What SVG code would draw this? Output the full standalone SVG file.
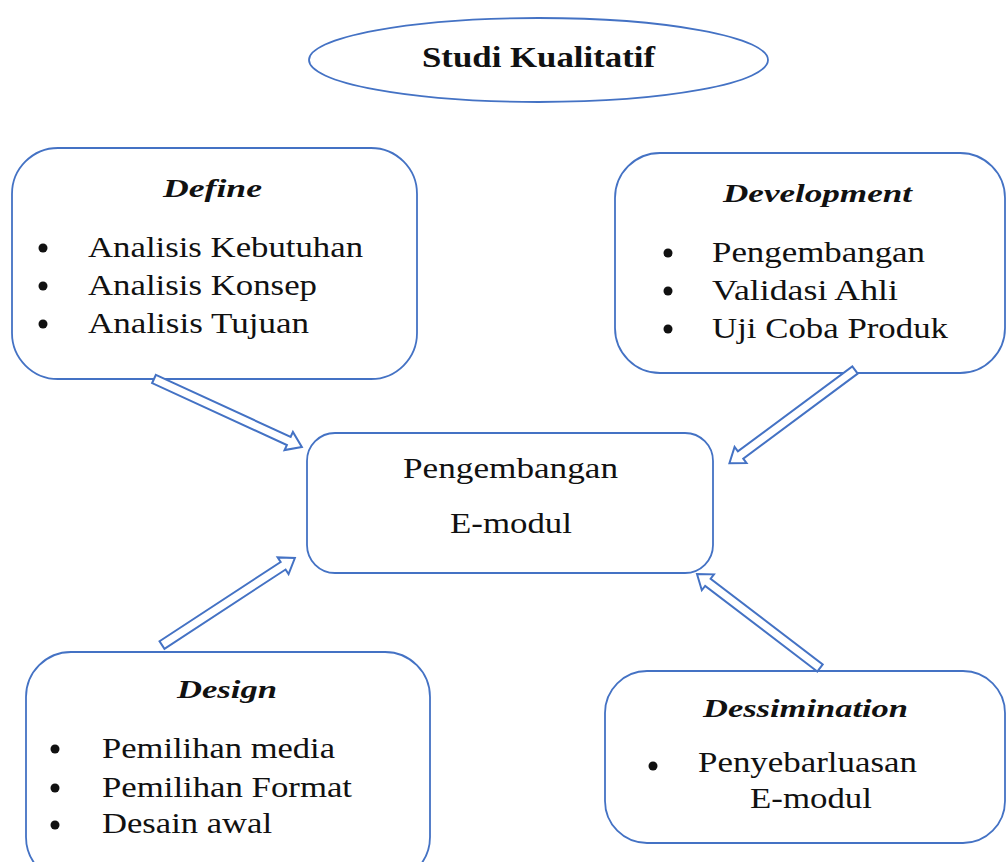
<svg xmlns="http://www.w3.org/2000/svg" width="1006" height="862" viewBox="0 0 1006 862">
<style>
.box{fill:#fff;stroke:#4472C4;stroke-width:1.8}
.arr{fill:#fff;stroke:#4472C4;stroke-width:2;stroke-linejoin:miter}
.t{font-family:"Liberation Serif","Times New Roman",serif;fill:#111}
.title{font-size:29px;font-weight:bold}
.hd{font-size:26px;font-weight:bold;font-style:italic}
.li{font-size:30px}
.ct{font-size:29px}
.dot{fill:#111}
</style>
<defs>
<path id="blk" d="M0,-4.5 L144,-4.5 L144,-10 L158,0 L144,10 L144,4.5 L0,4.5 Z"/>
</defs>
<rect width="1006" height="862" fill="#fff"/>

<g id="node-studi">
<ellipse class="box" cx="538.5" cy="60" rx="229.5" ry="42"/>
<text class="t title" x="422" y="67" textLength="233" lengthAdjust="spacingAndGlyphs">Studi Kualitatif</text>
</g>

<g id="node-define">
<rect class="box" x="12" y="148" width="405" height="231" rx="46"/>
<text class="t hd" x="163" y="197" textLength="99" lengthAdjust="spacingAndGlyphs">Define</text>
<circle class="dot" cx="43" cy="248" r="4.5"/>
<circle class="dot" cx="43" cy="286" r="4.5"/>
<circle class="dot" cx="43" cy="324" r="4.5"/>
<text class="t li" x="88" y="257" textLength="275" lengthAdjust="spacingAndGlyphs">Analisis Kebutuhan</text>
<text class="t li" x="88" y="295" textLength="229" lengthAdjust="spacingAndGlyphs">Analisis Konsep</text>
<text class="t li" x="88" y="333" textLength="221" lengthAdjust="spacingAndGlyphs">Analisis Tujuan</text>
</g>

<g id="node-development">
<rect class="box" x="615" y="153" width="390" height="220" rx="45"/>
<text class="t hd" x="723" y="202" textLength="189" lengthAdjust="spacingAndGlyphs">Development</text>
<circle class="dot" cx="668" cy="253" r="4.5"/>
<circle class="dot" cx="668" cy="291" r="4.5"/>
<circle class="dot" cx="668" cy="329" r="4.5"/>
<text class="t li" x="712" y="262" textLength="213" lengthAdjust="spacingAndGlyphs">Pengembangan</text>
<text class="t li" x="712" y="300" textLength="186" lengthAdjust="spacingAndGlyphs">Validasi Ahli</text>
<text class="t li" x="712" y="338" textLength="236" lengthAdjust="spacingAndGlyphs">Uji Coba Produk</text>
</g>

<g id="node-center">
<rect class="box" x="307" y="433" width="406" height="140" rx="28"/>
<text class="t ct" x="403" y="478" textLength="215" lengthAdjust="spacingAndGlyphs">Pengembangan</text>
<text class="t ct" x="450" y="533" textLength="122" lengthAdjust="spacingAndGlyphs">E-modul</text>
</g>

<g id="node-design">
<rect class="box" x="26" y="652" width="404" height="230" rx="45"/>
<text class="t hd" x="177" y="698" textLength="100" lengthAdjust="spacingAndGlyphs">Design</text>
<circle class="dot" cx="55" cy="749" r="4.5"/>
<circle class="dot" cx="55" cy="788" r="4.5"/>
<circle class="dot" cx="55" cy="825" r="4.5"/>
<text class="t li" x="102" y="758" textLength="233" lengthAdjust="spacingAndGlyphs">Pemilihan media</text>
<text class="t li" x="102" y="797" textLength="250" lengthAdjust="spacingAndGlyphs">Pemilihan Format</text>
<text class="t li" x="102" y="833" textLength="170" lengthAdjust="spacingAndGlyphs">Desain awal</text>
</g>

<g id="node-dessimination">
<rect class="box" x="605" y="671" width="400" height="172" rx="42"/>
<text class="t hd" x="703" y="717" textLength="205" lengthAdjust="spacingAndGlyphs">Dessimination</text>
<circle class="dot" cx="653" cy="766" r="4.5"/>
<text class="t li" x="698" y="772" textLength="219" lengthAdjust="spacingAndGlyphs">Penyebarluasan</text>
<text class="t li" x="750" y="808" textLength="122" lengthAdjust="spacingAndGlyphs">E-modul</text>
</g>

<g id="connectors">
<use href="#blk" class="arr" transform="translate(154,379) rotate(24.7) scale(1.03,1)"/>
<use href="#blk" class="arr" transform="translate(855,370) rotate(143.4) scale(0.99,1)"/>
<use href="#blk" class="arr" transform="translate(162,645) rotate(-33.2) scale(1.005,1)"/>
<use href="#blk" class="arr" transform="translate(820,668) rotate(-142.6) scale(0.98,1)"/>
</g>
</svg>
